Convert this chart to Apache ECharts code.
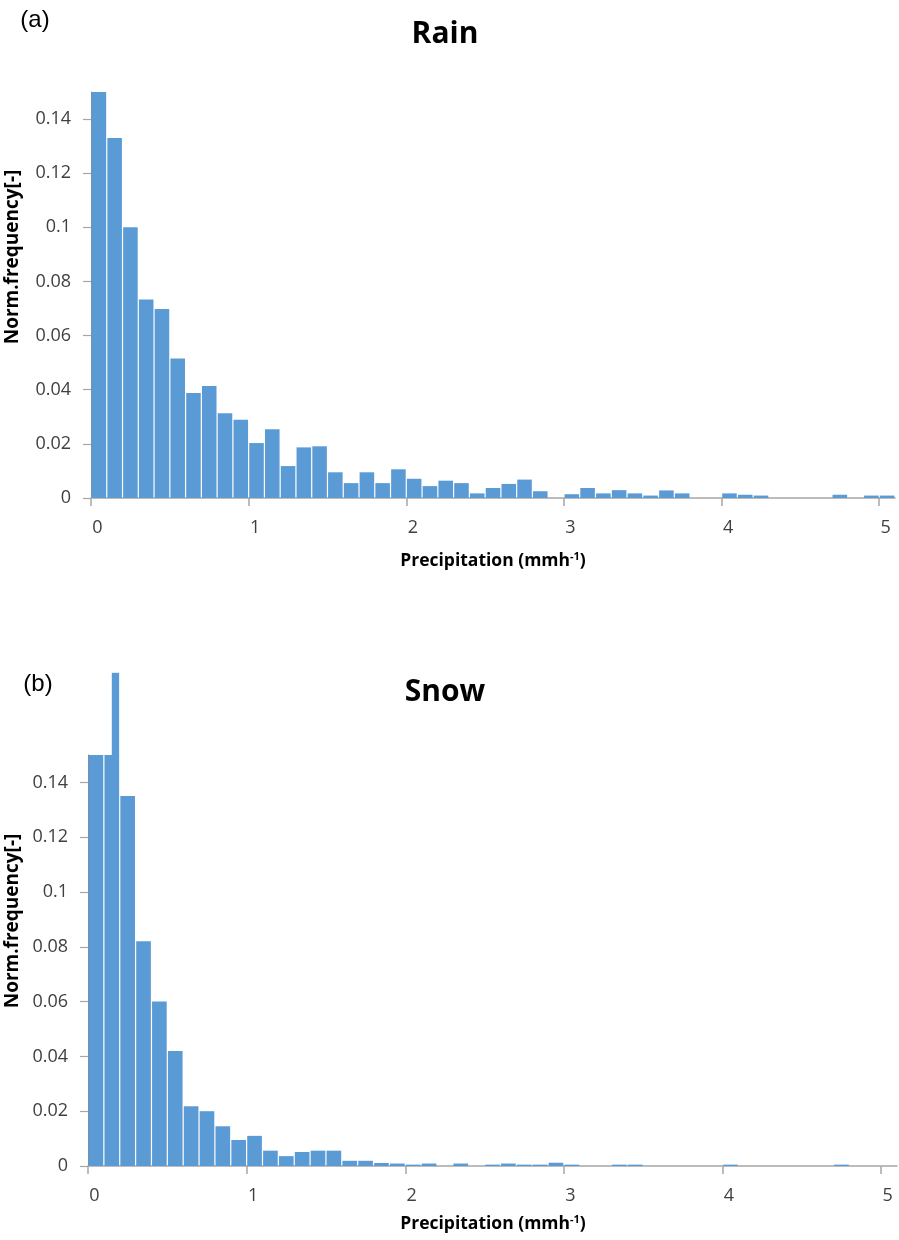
<!DOCTYPE html>
<html>
<head>
<meta charset="utf-8">
<title>Rain and snow precipitation histograms</title>
<script src="https://cdn.jsdelivr.net/npm/echarts@6/dist/echarts.min.js"></script>
<style>
  html, body { margin: 0; padding: 0; background: #ffffff; }
  #chart { width: 899px; height: 1240px; }
</style>
</head>
<body>
<div id="chart"></div>
<script>
// Histogram bin width (mm/h); bins run from 0 to 5.1
const binWidth = 0.1;

// Normalised frequency per 0.1 mm/h bin, rain
const rainFreq = [
  0.150, 0.133, 0.100, 0.0733, 0.0698, 0.0515, 0.0388, 0.0414, 0.0313, 0.0289,
  0.0203, 0.0254, 0.0118, 0.0187, 0.0191, 0.0095, 0.0055, 0.0095, 0.0055, 0.0106,
  0.0071, 0.0044, 0.0064, 0.0055, 0.0017, 0.0037, 0.0052, 0.0068, 0.0025, 0,
  0.0014, 0.0037, 0.0017, 0.0029, 0.0017, 0.0009, 0.0028, 0.0017, 0, 0,
  0.0017, 0.0012, 0.0009, 0, 0, 0, 0, 0.0012, 0, 0.0009,
  0.0009
];

// Normalised frequency per 0.1 mm/h bin, snow
const snowFreq = [
  0.150, 0.180, 0.135, 0.082, 0.060, 0.042, 0.0218, 0.020, 0.0145, 0.0095,
  0.011, 0.0056, 0.0036, 0.0051, 0.0056, 0.0056, 0.0019, 0.0019, 0.0011, 0.0009,
  0.0005, 0.0009, 0, 0.0009, 0, 0.0005, 0.0009, 0.0005, 0.0005, 0.0012,
  0.0005, 0, 0, 0.0005, 0.0005, 0, 0, 0, 0, 0,
  0.0005, 0, 0, 0, 0, 0, 0, 0.0005, 0, 0,
  0
];

// Axis ticks
const xTicks = [0, 1, 2, 3, 4, 5];
const yTicks = [0, 0.02, 0.04, 0.06, 0.08, 0.1, 0.12, 0.14];
const xMax = 5.1;
const yMax = 0.15;

const panelTitles = ['Rain', 'Snow'];
const panelTags = ['(a)', '(b)'];
const xName = 'Precipitation (mmh{sup|-1})';
const yName = 'Norm.frequency[-]';

const BAR = '#5B9BD5';
const AXIS = '#A6A6A6';
const FONT = '"Open Sans", "Noto Sans", sans-serif';

function toBins(values) {
  return values.map((v, i) => [i * binWidth, (i + 1) * binWidth, v]);
}

// Histogram bars with a thin white gap between neighbours; a bin taller than
// the axis range is drawn clipped, with a narrow strip on its right half
// reaching its full height.
function renderBin(params, api) {
  const x0 = api.value(0), x1 = api.value(1), v = api.value(2);
  if (!v) return null;
  const top = Math.min(v, yMax);
  const p0 = api.coord([x0, top]);
  const p1 = api.coord([x1, 0]);
  const children = [{
    type: 'rect',
    shape: { x: p0[0] + 0.6, y: p0[1], width: p1[0] - p0[0] - 1.2, height: p1[1] - p0[1] },
    style: { fill: BAR }
  }];
  if (v > yMax) {
    const q0 = api.coord([(x0 + x1) / 2, v]);
    const q1 = api.coord([x1, yMax]);
    children.push({
      type: 'rect',
      shape: { x: q0[0], y: q0[1], width: q1[0] - q0[0] - 0.6, height: q1[1] - q0[1] + 1 },
      style: { fill: BAR }
    });
  }
  return { type: 'group', children };
}

function xAxisFor(gridIndex) {
  return {
    type: 'value', gridIndex, min: 0, max: xMax,
    axisLine: { show: true, onZero: false, lineStyle: { color: AXIS, width: 1.5 } },
    axisTick: { show: true, length: 8, customValues: xTicks, lineStyle: { color: AXIS, width: 1.5 } },
    axisLabel: {
      customValues: xTicks, margin: 21, fontSize: 18, color: '#404040',
      fontFamily: FONT, padding: [0, 0, 0, 13]
    },
    splitLine: { show: false }
  };
}

function yAxisFor(gridIndex) {
  return {
    type: 'value', gridIndex, min: 0, max: yMax,
    axisLine: { show: true, lineStyle: { color: '#8C8C8C', width: 1 } },
    axisTick: { show: true, length: 8, customValues: yTicks, lineStyle: { color: AXIS, width: 1.2 } },
    axisLabel: {
      customValues: yTicks, margin: 20, fontSize: 18, color: '#404040',
      fontFamily: FONT, formatter: v => String(v)
    },
    splitLine: { show: false }
  };
}

// Panel layout (pixels)
const panels = [
  { left: 91, top: 92, width: 804, height: 406, titleY: 34, tagX: 35, tagY: 20, xNameY: 561, yNameY: 257 },
  { left: 88, top: 755, width: 809, height: 411, titleY: 692, tagX: 38, tagY: 684, xNameY: 1224, yNameY: 921 }
];

const graphics = [];
panels.forEach((p, i) => {
  graphics.push({
    type: 'text', x: 445, y: p.titleY,
    style: { text: panelTitles[i], font: 'bold 30px ' + FONT, fill: '#000', align: 'center', verticalAlign: 'middle' }
  });
  graphics.push({
    type: 'text', x: p.tagX, y: p.tagY,
    style: { text: panelTags[i], font: '24px "Liberation Sans", Arial, sans-serif', fill: '#000', align: 'center', verticalAlign: 'middle' }
  });
  graphics.push({
    type: 'text', x: 493, y: p.xNameY,
    style: {
      text: xName, fill: '#000', align: 'center', verticalAlign: 'middle',
      font: 'bold 17.5px ' + FONT,
      rich: { sup: { fontSize: 11, fontWeight: 'bold', fontFamily: FONT, fill: '#000', padding: [0, 0, 9, 0] } }
    }
  });
  graphics.push({
    type: 'text', x: 13, y: p.yNameY, rotation: Math.PI / 2,
    style: { text: yName, font: 'bold 19px ' + FONT, fill: '#000', align: 'center', verticalAlign: 'middle' }
  });
});

const chart = echarts.init(document.getElementById('chart'), null, { renderer: 'canvas' });
chart.setOption({
  animation: false,
  backgroundColor: '#ffffff',
  grid: panels.map(p => ({ left: p.left, top: p.top, width: p.width, height: p.height, containLabel: false })),
  xAxis: [xAxisFor(0), xAxisFor(1)],
  yAxis: [yAxisFor(0), yAxisFor(1)],
  graphic: graphics,
  series: [
    { type: 'custom', name: panelTitles[0], xAxisIndex: 0, yAxisIndex: 0, clip: false,
      renderItem: renderBin, encode: { x: [0, 1], y: 2 }, data: toBins(rainFreq) },
    { type: 'custom', name: panelTitles[1], xAxisIndex: 1, yAxisIndex: 1, clip: false,
      renderItem: renderBin, encode: { x: [0, 1], y: 2 }, data: toBins(snowFreq) }
  ]
});
</script>
</body>
</html>
